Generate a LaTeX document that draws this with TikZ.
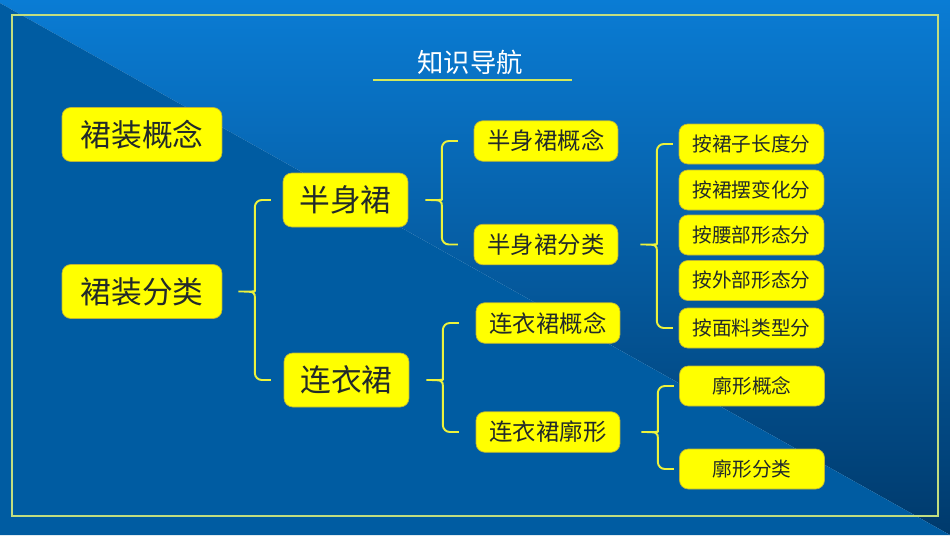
\documentclass[tikz,border=0pt]{standalone}
\usepackage{fontspec}
\setmainfont{Noto Sans CJK SC}
\usetikzlibrary{calc}
\definecolor{bgtop}{HTML}{0A7CD4}
\definecolor{bgbot}{HTML}{003A6C}
\definecolor{bgdark}{HTML}{005CA2}
\definecolor{rimgreen}{HTML}{C2DE80}
\definecolor{boxyellow}{HTML}{FFFF00}
\definecolor{inkgray}{HTML}{222A2A}
\definecolor{braceyellow}{HTML}{ECF23C}
\tikzset{
  box/.style={draw=yellow!70!black, line width=0.4pt, fill=boxyellow,
    rounded corners=5pt, text=inkgray, inner sep=0pt, align=center},
  topbox/.style={box, minimum width=3.2cm, minimum height=1.08cm,
    font=\fontsize{17.5}{20}\selectfont},
  subbox/.style={box, minimum width=2.5cm, minimum height=1.08cm,
    font=\fontsize{17.5}{20}\selectfont},
  midbox/.style={box, minimum width=2.88cm, minimum height=0.81cm,
    font=\fontsize{13.3}{16}\selectfont},
  leafbox/.style={box, minimum width=2.9cm, minimum height=0.8cm,
    font=\fontsize{11.2}{14}\selectfont},
  kuo/.style={draw=braceyellow, line width=1.1pt},
  rim/.style={draw=rimgreen, line width=0.8pt},
  titletext/.style={text=white, font=\fontsize{15}{18}\selectfont},
}
% brace: parent, top child, bottom child, gap before tip
\newcommand{\kuohao}[4]{%
  \coordinate (t) at ($(#1.east)+(#4,0)$);
  \coordinate (v) at ($(t)+(0.33cm,0)$);
  \coordinate (e) at ($(v)+(0.32cm,0)$);
  \draw[kuo] (e |- #2.west) [rounded corners=4pt] -- (v |- #2.west)
    -- ($(v)+(0,0.15cm)$) [sharp corners] .. controls (v) .. (t)
    .. controls (v) .. ($(v)+(0,-0.15cm)$) [rounded corners=4pt]
    -- (v |- #3.west) -- (e |- #3.west);}

\begin{document}
\begin{tikzpicture}[x=0.02cm, y=-0.02cm]
  \useasboundingbox (0,0) rectangle (950,535);
  % background
  \shade[top color=bgtop, bottom color=bgbot] (0,0) -- (950,0) -- (950,535) -- (0,3) -- cycle;
  \fill[bgdark] (0,3) -- (950,535) -- (0,535) -- cycle;
  \draw[rim] (12,15) rectangle (938,516);

  % title
  \node[titletext] (title) at (470,62) {知识导航};
  \draw[rim, draw=rimgreen!70!yellow] (373,80) -- (572,80);

  % level 1
  \node[topbox] (gn) at (142,134.5) {裙装概念};
  \node[topbox] (fl) at (142,291.5) {裙装分类};

  % level 2
  \node[subbox] (bsq) at (345.5,200) {半身裙};
  \node[subbox] (lyq) at (346.5,380) {连衣裙};

  % level 3
  \node[midbox] (bsqgn) at (546,141) {半身裙概念};
  \node[midbox] (bsqfl) at (546,244.5) {半身裙分类};
  \node[midbox] (lyqgn) at (548,323) {连衣裙概念};
  \node[midbox] (lyqkx) at (548,432) {连衣裙廓形};

  % level 4
  \node[leafbox] (cd) at (751.5,144) {按裙子长度分};
  \node[leafbox] (qb) at (751.5,190) {按裙摆变化分};
  \node[leafbox] (yb) at (751.5,235) {按腰部形态分};
  \node[leafbox] (wb) at (751.5,280.5) {按外部形态分};
  \node[leafbox] (ml) at (751.5,328) {按面料类型分};
  \node[leafbox] (kxgn) at (752,386) {廓形概念};
  \node[leafbox] (kxfl) at (752,469) {廓形分类};

  % braces
  \kuohao{fl}{bsq}{lyq}{0.32cm}
  \kuohao{bsq}{bsqgn}{bsqfl}{0.34cm}
  \kuohao{lyq}{lyqgn}{lyqkx}{0.34cm}
  \kuohao{bsqfl}{cd}{ml}{0.44cm}
  \kuohao{lyqkx}{kxgn}{kxfl}{0.42cm}
\end{tikzpicture}
\end{document}
